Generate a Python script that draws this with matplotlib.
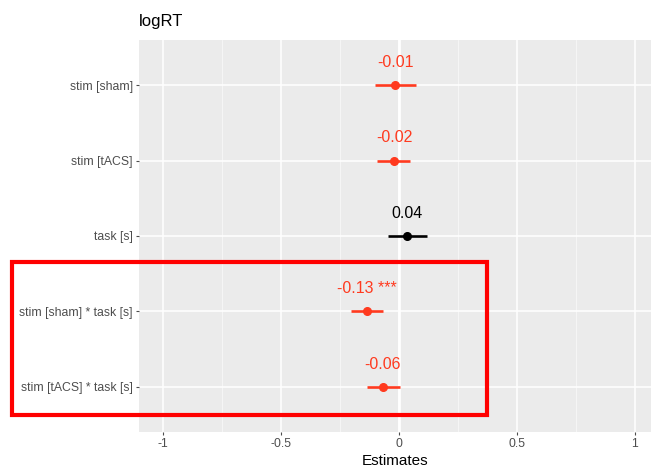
import matplotlib.pyplot as plt
from matplotlib.patches import Rectangle
import numpy as np

# values (sjPlot style forest plot)
terms = ["stim [sham]", "stim [tACS]", "task [s]",
         "stim [sham] * task [s]", "stim [tACS] * task [s]"]
estimates = [-0.014, -0.020, 0.035, -0.135, -0.068]
ci_low = [-0.100, -0.093, -0.047, -0.203, -0.135]
ci_high = [0.072, 0.047, 0.118, -0.068, 0.004]
value_labels = ["-0.01", "-0.02", "0.04", "-0.13 ***", "-0.06"]

x_ticks = [-1, -0.5, 0, 0.5, 1]
x_tick_labels = ["-1", "-0.5", "0", "0.5", "1"]
x_minor = [-0.75, -0.25, 0.25, 0.75]


def main():
    plt.rcParams.update({"font.family": ["Liberation Sans", "DejaVu Sans"]})

    fig = plt.figure(figsize=(6.51, 4.68), dpi=100)
    ax = fig.add_axes([139 / 651, 36 / 468, 512 / 651, 392 / 468])
    ax.set_facecolor("#EBEBEB")

    neg_col = "#FF3A1F"
    pos_col = "#000000"

    n = len(terms)
    ypos = np.arange(n, 0, -1)

    ax.set_xlim(-1.10, 1.068)
    ax.set_ylim(0.4, n + 0.6)

    # grid lines
    for xm in x_minor:
        ax.axvline(xm, color="#F7F7F7", lw=0.6, zorder=0)
    for xt in x_ticks:
        ax.axvline(xt, color="white", lw=1.1, zorder=0)
    for y in ypos:
        ax.axhline(y, color="white", lw=1.1, zorder=0)
    ax.axvline(0, color="white", lw=2.0, zorder=1)

    for i in range(n):
        col = neg_col if estimates[i] < 0 else pos_col
        y = ypos[i]
        ax.plot([ci_low[i], ci_high[i]], [y, y], color=col, lw=1.9,
                solid_capstyle="butt", zorder=3)
        ax.plot(estimates[i], y, "o", color=col, ms=5.5, zorder=4)
        ax.text(estimates[i], y + 0.3, value_labels[i], color=col,
                ha="center", va="center", fontsize=11.5, zorder=5)

    ax.set_yticks(ypos)
    ax.set_yticklabels(terms)
    ax.set_xticks(x_ticks)
    ax.set_xticklabels(x_tick_labels)
    ax.tick_params(axis="both", colors="#4D4D4D", labelsize=8.8,
                   length=2.5, width=0.8, pad=2)
    for sp in ax.spines.values():
        sp.set_visible(False)

    ax.set_xlabel("Estimates", fontsize=11, color="black", labelpad=3)
    ax.set_title("logRT", loc="left", fontsize=12, color="black", pad=10)

    # highlight box around the interaction terms
    box = Rectangle((12 / 651, 1 - 415 / 468), 475 / 651, 153 / 468,
                    transform=fig.transFigure, fill=False,
                    edgecolor="#FF0000", lw=3.0, zorder=10)
    fig.patches.append(box)

    fig.savefig("out.png", dpi=100)


if __name__ == "__main__":
    main()
